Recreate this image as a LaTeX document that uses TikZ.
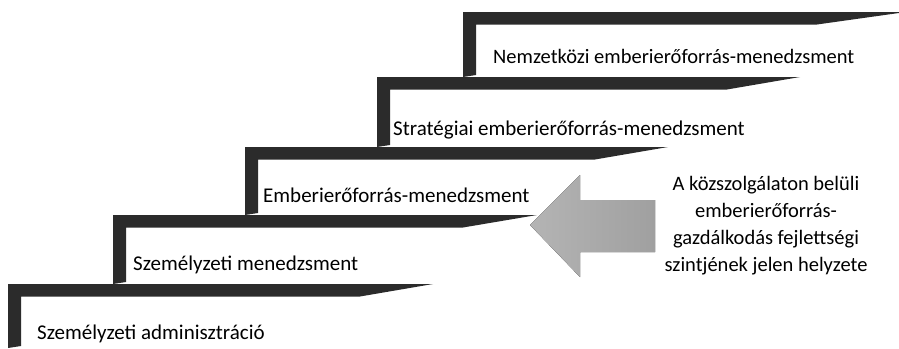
\documentclass[tikz,border=0pt]{standalone}
\usepackage{fontspec}
\setmainfont{Carlito}

\definecolor{stairdark}{HTML}{2B2B2B}
\definecolor{arrowlight}{HTML}{B4B4B4}
\definecolor{arrowdark}{HTML}{A0A0A0}

\tikzset{
  stairbar/.style={fill=stairdark},
  steplabel/.style={anchor=base west, inner sep=0pt,
    font=\fontsize{21}{25}\selectfont},
  bigarrow/.style={left color=arrowlight, right color=arrowdark, draw=none},
  notetext/.style={align=center, inner sep=0pt,
    font=\fontsize{20.5}{27}\selectfont}
}

\begin{document}
\begin{tikzpicture}[x=1pt,y=-1pt]
\useasboundingbox (0,0) rectangle (899,348);

% staircase: left riser, tread with a tapered right end
\begin{scope}
  \clip (0,0) rectangle (899,348);
  \foreach \xl/\yt/\xs/\xe/\yb in {8/284/360/433/348,
                                   113/215/463/537/284,
                                   245/147/595/668/215,
                                   377/77/727/800/147,
                                   463/12/817/906/77}
    \fill[stairbar] (\xl,\yt) -- (\xe,\yt) -- (\xs,\yt+12.5)
      -- (\xl+13,\yt+12.5) -- (\xl+13,\yb-2) -- (\xl,\yb) -- cycle;
\end{scope}

% step labels
\node[steplabel] (s1) at (37,339) {Személyzeti adminisztráció};
\node[steplabel] (s2) at (133,270) {Személyzeti menedzsment};
\node[steplabel] (s3) at (263,202) {Emberierőforrás-menedzsment};
\node[steplabel] (s4) at (393,135) {Stratégiai emberierőforrás-menedzsment};
\node[steplabel, font=\fontsize{20.5}{25}\selectfont] (s5) at (493,63)
  {Nemzetközi emberierőforrás-menedzsment};

% pointer arrow
\fill[bigarrow] (530,225) -- (580,175) -- (580,200) -- (655,200)
  -- (655,252) -- (580,252) -- (580,277) -- cycle;

% note
\node[notetext] (note) at (766,226) {A közszolgálaton belüli\\
  emberierőforrás-\\gazdálkodás fejlettségi\\szintjének jelen helyzete};
\end{tikzpicture}
\end{document}
